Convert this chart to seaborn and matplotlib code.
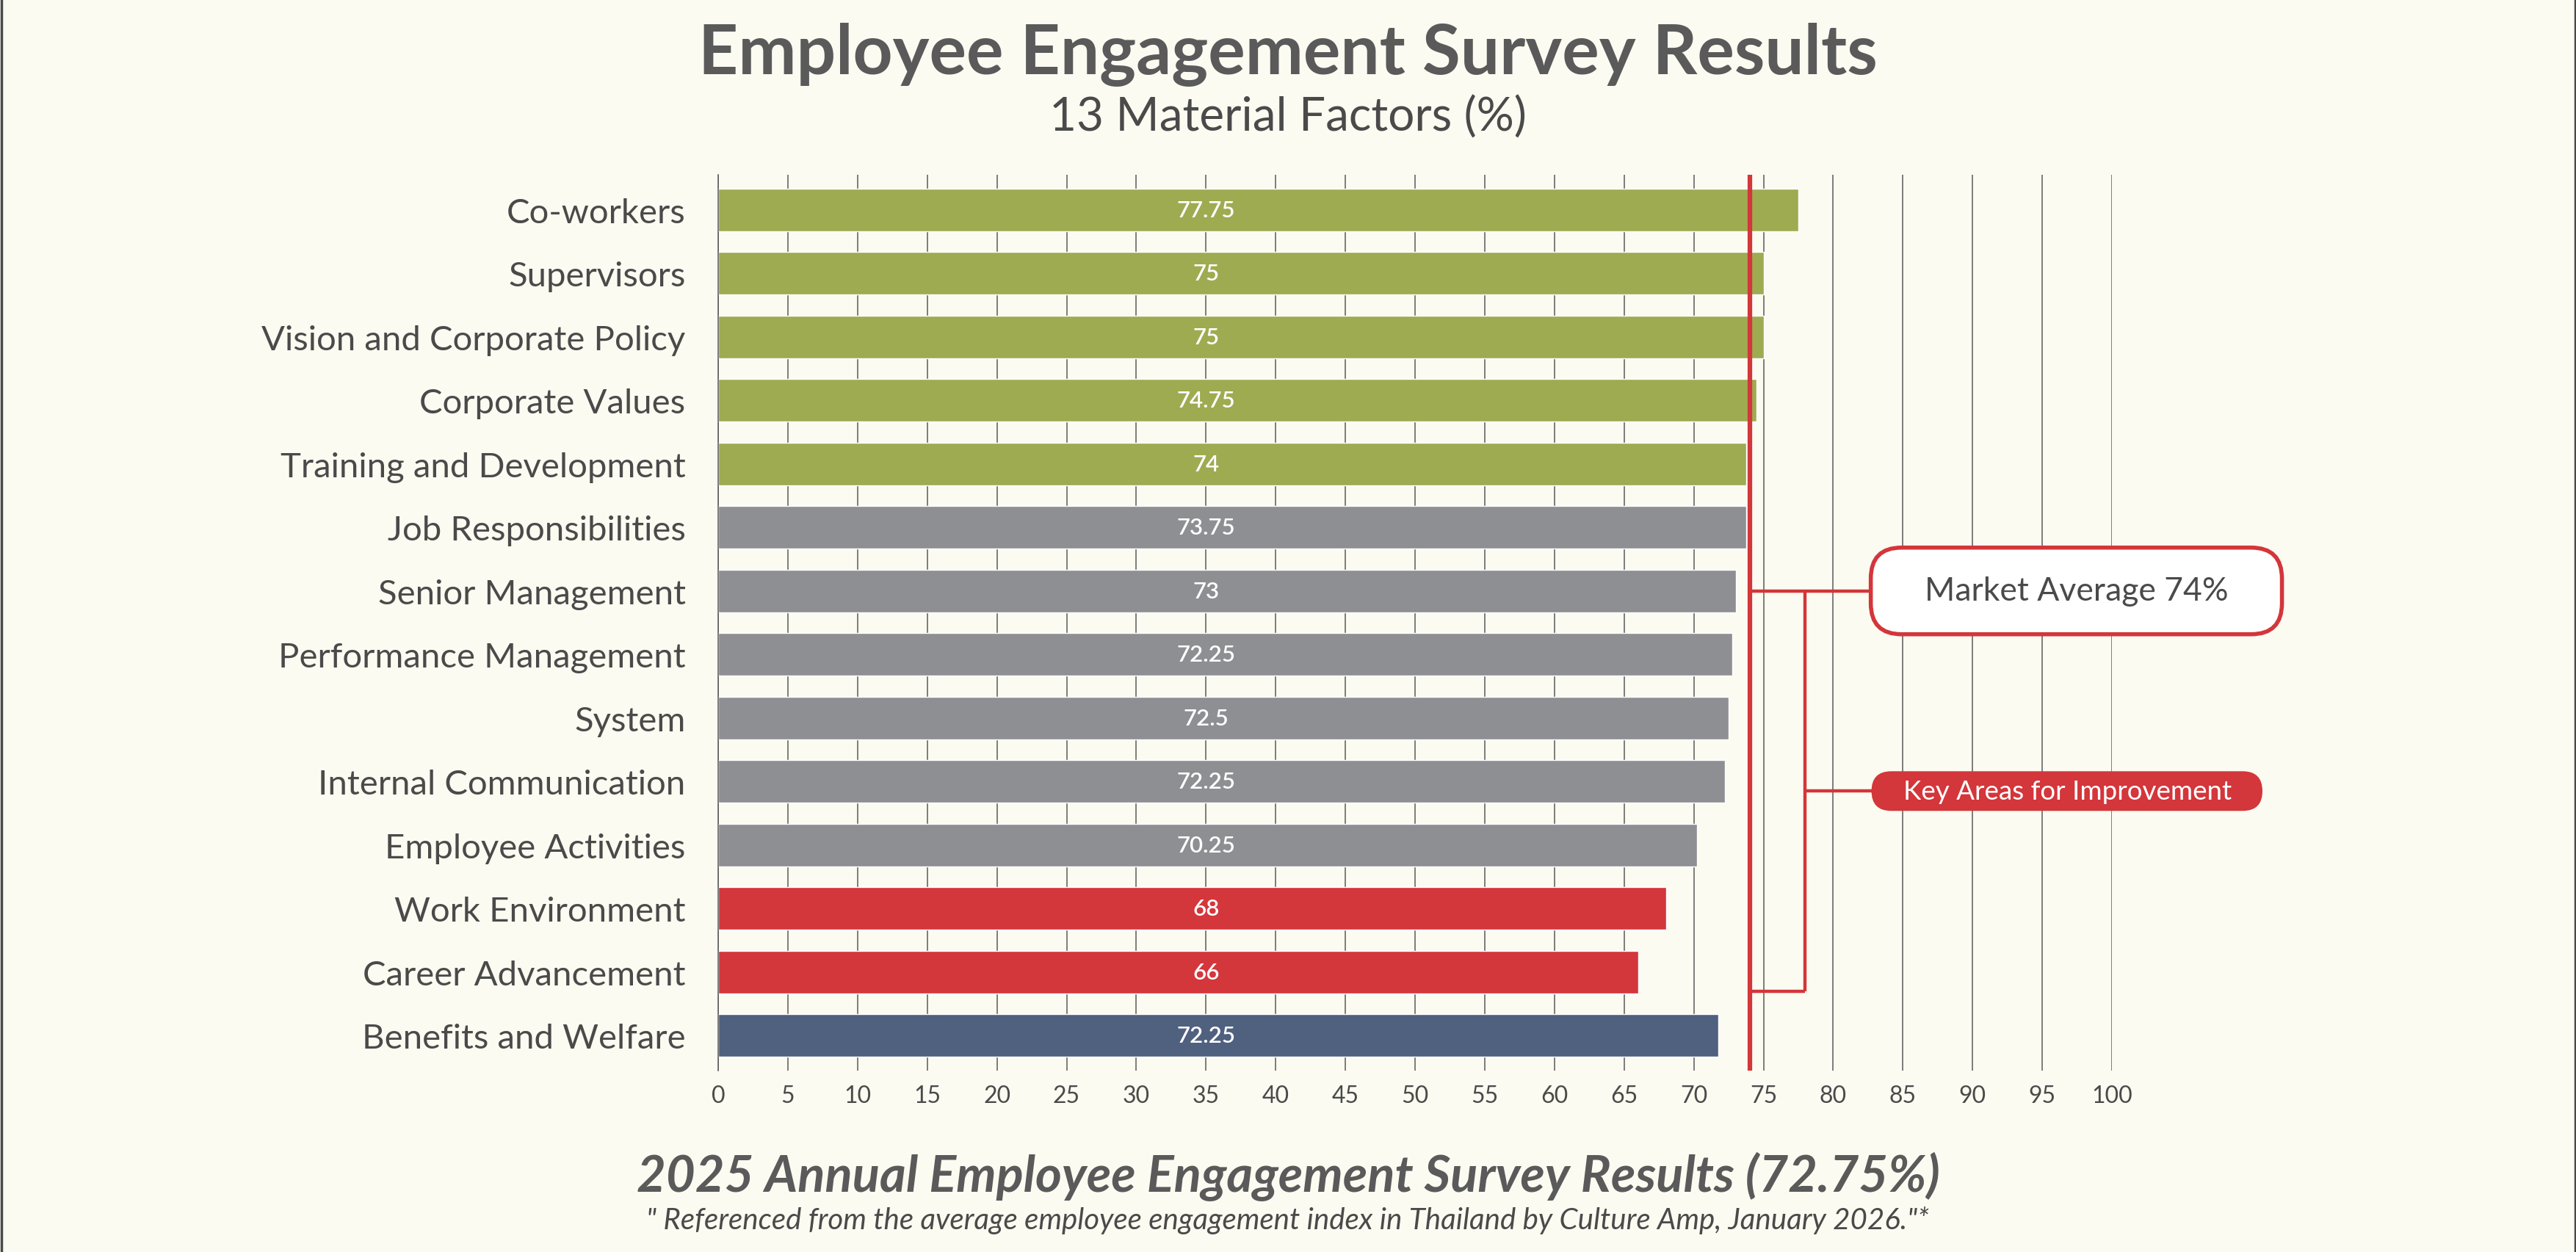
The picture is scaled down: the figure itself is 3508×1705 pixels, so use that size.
import matplotlib
matplotlib.use("Agg")
import matplotlib.pyplot as plt
from matplotlib.patches import FancyBboxPatch
from matplotlib.transforms import IdentityTransform
import seaborn as sns
import pandas as pd

# data
categories = ['Co-workers', 'Supervisors', 'Vision and Corporate Policy', 'Corporate Values',
              'Training and Development', 'Job Responsibilities', 'Senior Management',
              'Performance Management', 'System', 'Internal Communication',
              'Employee Activities', 'Work Environment', 'Career Advancement', 'Benefits and Welfare']
scores = [77.5, 75, 75, 74.5, 73.75, 73.75, 73, 72.75, 72.5, 72.25, 70.25, 68, 66, 71.75]
score_labels = ['77.75', '75', '75', '74.75', '74', '73.75', '73', '72.25', '72.5', '72.25',
                '70.25', '68', '66', '72.25']
groups = ['high'] * 5 + ['mid'] * 6 + ['low'] * 2 + ['benefit']
market_avg = 74
x_ticks = list(range(0, 101, 5))

group_colors = {'high': '#9fab51', 'mid': '#8e8f93', 'low': '#d3363b', 'benefit': '#50607f'}
red = '#d3363b'
text_col = '#4a4a4a'
bg = '#fbfbf1'

df = pd.DataFrame({'factor': categories, 'score': scores, 'group': groups})

sns.set_theme(style='white')
plt.rcParams['font.family'] = ['Lato', 'DejaVu Sans']

W, H = 3508, 1706
fig = plt.figure(figsize=(W / 100, H / 100), dpi=100, facecolor=bg)
ax = fig.add_axes([978 / W, 1 - 1459 / H, (2876 - 978) / W, (1459 - 239) / H])
ax.set_facecolor(bg)

sns.barplot(data=df, x='score', y='factor', hue='factor',
            palette=[group_colors[g] for g in groups], legend=False,
            orient='h', width=0.67, saturation=1, ax=ax, zorder=2)

ax.set_xlim(0, 100)
ax.set_ylim(len(categories) - 0.45, -0.55)
ax.set_xticks(x_ticks)
ax.grid(axis='x', color='#5a5a5a', lw=1.1, zorder=0)
ax.grid(axis='y', visible=False)
ax.set_axisbelow(True)
for s in ['top', 'right', 'bottom']:
    ax.spines[s].set_visible(False)
ax.spines['left'].set_color('#5a5a5a')
ax.spines['left'].set_linewidth(1.1)
ax.tick_params(axis='x', length=0, pad=14, labelsize=23, labelcolor=text_col)
ax.tick_params(axis='y', length=0, pad=32, labelsize=34, labelcolor=text_col)
ax.set_xlabel('')
ax.set_ylabel('')

# value labels inside bars
for i, lab in enumerate(score_labels):
    ax.text(35, i, lab, color='white', fontsize=22.5, fontweight='semibold',
            ha='center', va='center', zorder=4)

# market average line and bracket
ax.axvline(market_avg, color=red, lw=4.5, zorder=5)
kw = dict(color=red, lw=3.2, zorder=5, solid_capstyle='butt')
ax.plot([market_avg, 82.7], [6, 6], **kw)
ax.plot([78, 78], [6, 12.3], **kw)
ax.plot([market_avg, 78], [12.3, 12.3], **kw)
ax.plot([78, 82.75], [9.15, 9.15], **kw)


def callout(x0, x1, yc, h, r, fc, ec, lw):
    px0, pyc = ax.transData.transform((x0, yc))
    px1, _ = ax.transData.transform((x1, yc))
    p = FancyBboxPatch((px0, pyc - h / 2), px1 - px0, h,
                       boxstyle=f'round,pad=0,rounding_size={r}',
                       fc=fc, ec=ec, lw=lw, transform=IdentityTransform(),
                       zorder=6, clip_on=False)
    ax.add_patch(p)


callout(82.7, 112.2, 6, 118, 42, 'white', red, 4)
ax.text(97.45, 6, 'Market Average 74%', color=text_col, fontsize=32,
        ha='center', va='center', zorder=7, clip_on=False)
callout(82.75, 110.8, 9.15, 54, 27, red, red, 0)
ax.text(96.8, 9.15, 'Key Areas for Improvement', color='white', fontsize=26.5,
        ha='center', va='center', zorder=7, clip_on=False)

# titles
fig.text(0.5, 1 - 74 / H, 'Employee Engagement Survey Results', ha='center', va='center',
         fontsize=68, fontweight='bold', color='#5a5a5a')
fig.text(0.5, 1 - 160 / H, '13 Material Factors (%)', ha='center', va='center',
         fontsize=46, color=text_col)
fig.text(0.5, 1 - 1602 / H, '2025 Annual Employee Engagement Survey Results (72.75%)',
         ha='center', va='center', fontsize=49.5, fontweight='bold', fontstyle='italic',
         color='#5a5a5a')
fig.text(0.5, 1 - 1662 / H,
         '" Referenced from the average employee engagement index in Thailand by Culture Amp, January 2026."*',
         ha='center', va='center', fontsize=29, fontstyle='italic', color=text_col)

# frame edges
fig.add_artist(plt.Line2D([1.5 / W, 1.5 / W], [0, 1], color='#4a4a4a', lw=2.5))
fig.add_artist(plt.Line2D([1 - 1.5 / W, 1 - 1.5 / W], [0, 1], color='#4a4a4a', lw=2.5))

fig.savefig('out.png', dpi=100, facecolor=bg)
